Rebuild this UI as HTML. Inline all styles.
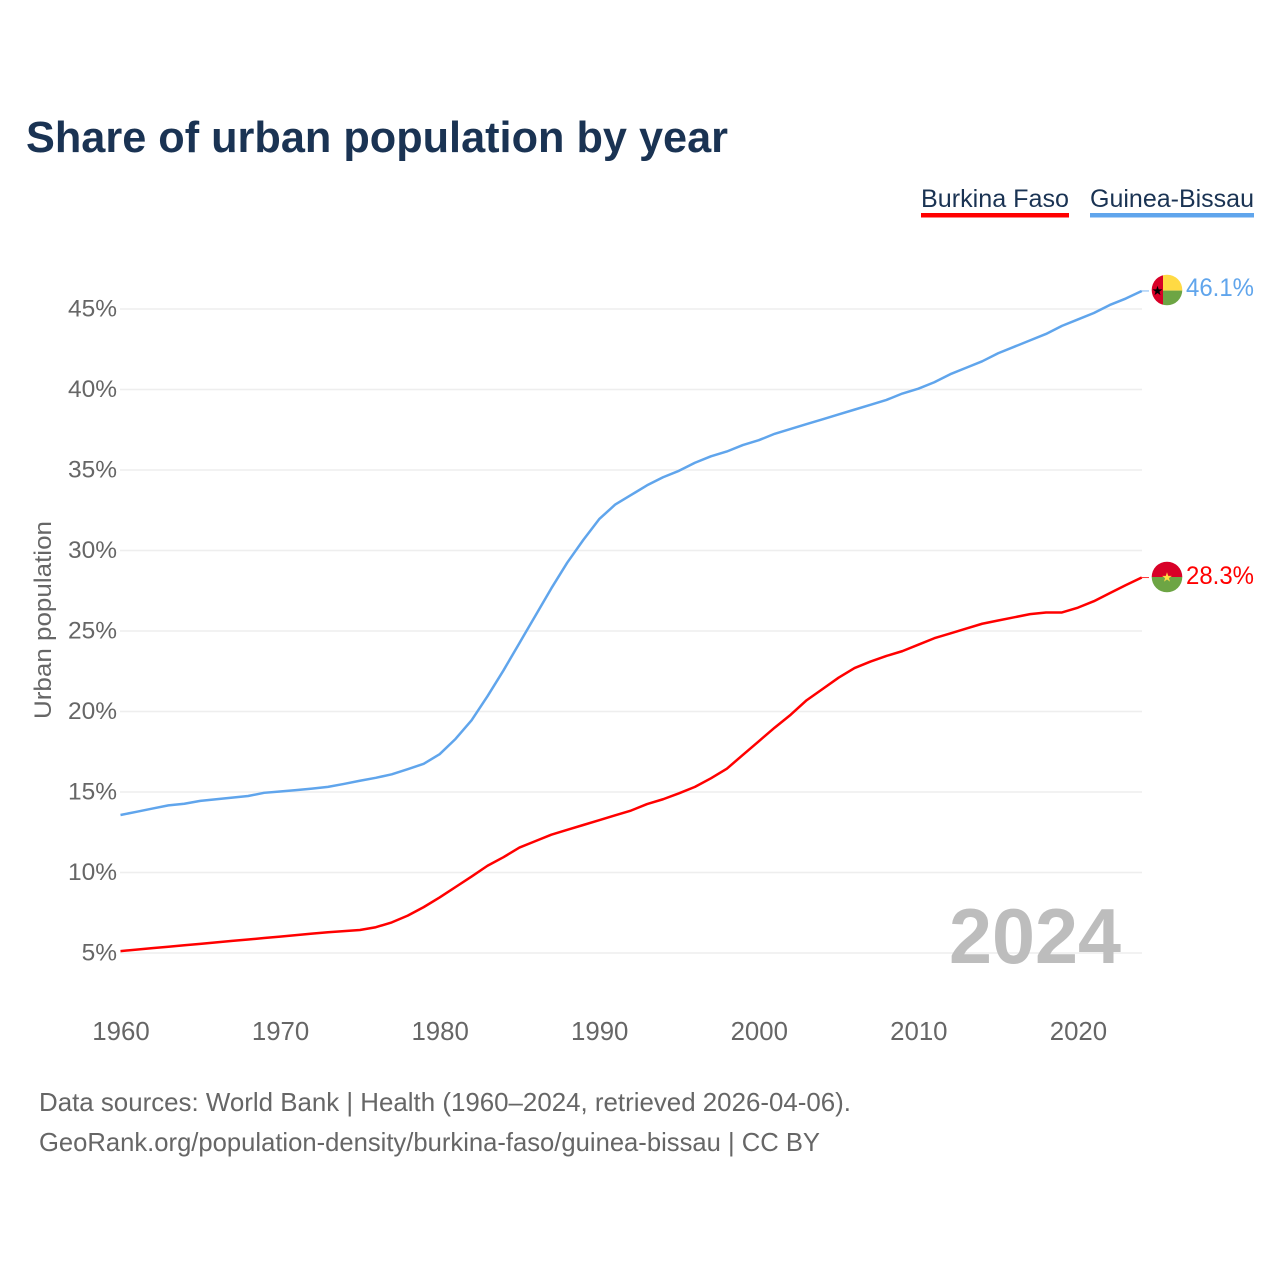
<!DOCTYPE html>
<html lang="en">
<head>
<meta charset="utf-8">
<title>Share of urban population by year</title>
<style>
html,body{margin:0;padding:0;background:#fff;}
svg{display:block;font-family:"Liberation Sans",sans-serif;}
</style>
</head>
<body>
<svg id="chart" width="1280" height="1280" viewBox="0 0 1280 1280" xmlns="http://www.w3.org/2000/svg">
<rect x="0" y="0" width="1280" height="1280" fill="#fff"/>
<text x="26" y="152" font-size="44" font-weight="700" fill="#1a3353" textLength="702" lengthAdjust="spacingAndGlyphs">Share of urban population by year</text>

<g>
<text x="921" y="207" font-size="25" fill="#1a3353" textLength="148" lengthAdjust="spacingAndGlyphs">Burkina Faso</text>
<rect x="921" y="213" width="148" height="4.5" fill="#ff0000"/>
</g>
<g>
<text x="1090" y="207" font-size="25" fill="#1a3353" textLength="164" lengthAdjust="spacingAndGlyphs">Guinea-Bissau</text>
<rect x="1090" y="213" width="164" height="4.5" fill="#60a5ec"/>
</g>

<g id="grid"></g>
<g id="yticks"></g>
<g id="xticks"></g>
<text transform="translate(51,620) rotate(-90)" text-anchor="middle" font-size="24" fill="#666" textLength="198" lengthAdjust="spacingAndGlyphs">Urban population</text>

<text x="1121" y="963" text-anchor="end" font-size="78" font-weight="700" fill="#bdbdbd" textLength="172" lengthAdjust="spacingAndGlyphs">2024</text>

<g id="series"></g>

<defs>
<clipPath id="flag-gw-clip"><circle cx="1167" cy="290" r="15.3"/></clipPath>
<clipPath id="flag-bf-clip"><circle cx="1167" cy="577" r="15.3"/></clipPath>
</defs>
<g clip-path="url(#flag-gw-clip)">
<rect x="1151" y="274" width="12" height="32" fill="#d80027"/>
<rect x="1163" y="274" width="20" height="16.6" fill="#ffda44"/>
<rect x="1163" y="290.6" width="20" height="16" fill="#6da544"/>
<polygon points="1157.5,285.8 1158.7,289.4 1162.4,289.4 1159.4,291.6 1160.5,295.1 1157.5,293 1154.5,295.1 1155.6,291.6 1152.6,289.4 1156.3,289.4" fill="#000"/>
</g>
<g clip-path="url(#flag-bf-clip)">
<rect x="1151" y="561" width="32" height="16" fill="#d80027"/>
<rect x="1151" y="577" width="32" height="16" fill="#6da544"/>
<polygon points="1167,572.3 1168.2,575.9 1171.9,575.9 1168.9,578.1 1170,581.6 1167,579.5 1164,581.6 1165.1,578.1 1162.1,575.9 1165.8,575.9" fill="#ffda44"/>
</g>

<text x="1186" y="296" font-size="25" fill="#60a5ec" textLength="68" lengthAdjust="spacingAndGlyphs">46.1%</text>
<text x="1186" y="584" font-size="25" fill="#ff0000" textLength="68" lengthAdjust="spacingAndGlyphs">28.3%</text>

<text x="39" y="1111" font-size="26" fill="#666" textLength="812" lengthAdjust="spacingAndGlyphs">Data sources: World Bank | Health (1960–2024, retrieved 2026-04-06).</text>
<text x="39" y="1151" font-size="26" fill="#666" textLength="781" lengthAdjust="spacingAndGlyphs">GeoRank.org/population-density/burkina-faso/guinea-bissau | CC BY</text>
</svg>
<script>
const firstYear = 1960;
const yTickValues = [5, 10, 15, 20, 25, 30, 35, 40, 45];
const xTickYears = [1960, 1970, 1980, 1990, 2000, 2010, 2020];
const burkinaFaso = [5.12,5.21,5.30,5.39,5.48,5.57,5.66,5.75,5.84,5.93,6.02,6.11,6.20,6.29,6.36,6.43,6.60,6.90,7.32,7.85,8.45,9.10,9.75,10.42,10.95,11.55,11.95,12.35,12.65,12.95,13.25,13.55,13.85,14.25,14.55,14.92,15.32,15.85,16.45,17.30,18.15,19.00,19.80,20.70,21.40,22.10,22.70,23.10,23.45,23.75,24.15,24.55,24.85,25.15,25.45,25.65,25.85,26.05,26.15,26.15,26.45,26.85,27.35,27.85,28.32];
const guineaBissau = [13.57,13.77,13.97,14.17,14.27,14.45,14.55,14.65,14.75,14.95,15.03,15.12,15.21,15.32,15.50,15.70,15.88,16.10,16.42,16.75,17.35,18.30,19.45,20.95,22.55,24.25,25.95,27.65,29.25,30.65,31.95,32.85,33.45,34.05,34.55,34.95,35.45,35.85,36.15,36.55,36.85,37.25,37.55,37.85,38.15,38.45,38.75,39.05,39.35,39.75,40.05,40.45,40.95,41.35,41.75,42.25,42.65,43.05,43.45,43.95,44.35,44.75,45.25,45.65,46.12];

const NS = 'http://www.w3.org/2000/svg';
function xScale(year) { return 120.5 + (year - 1960) * 15.957; }
function yScale(v) { return 953 - (v - 5) * 16.1; }
function make(tag, attrs, parent) {
  const el = document.createElementNS(NS, tag);
  for (const k in attrs) el.setAttribute(k, attrs[k]);
  parent.appendChild(el);
  return el;
}

const gridG = document.getElementById('grid');
const yG = document.getElementById('yticks');
yTickValues.forEach(function (v) {
  const line = make('line', {x1: 120, x2: 1142, y1: yScale(v), y2: yScale(v), stroke: '#eeeeee', 'stroke-width': 1.5}, gridG);
  
  
  const label = make('text', {x: 117, y: yScale(v) + 7.5, 'text-anchor': 'end', 'font-size': 24.5, fill: '#666'}, yG);
  
  
  label.textContent = v + '%';
});

const xG = document.getElementById('xticks');
xTickYears.forEach(function (yr) {
  const label = make('text', {x: xScale(yr) + 0.5, y: 1040, 'text-anchor': 'middle', 'font-size': 25.8, fill: '#666'}, xG);
  
  
  label.textContent = yr;
});

const seriesG = document.getElementById('series');
function drawSeries(values, color, name) {
  const pts = values.map(function (v, i) { return xScale(firstYear + i).toFixed(2) + ',' + yScale(v).toFixed(2); });
  const line = make('polyline', {points: pts.join(' '), fill: 'none', stroke: color, 'stroke-width': 2.5, 'stroke-linejoin': 'round'}, seriesG);
  
  
  const lastX = xScale(firstYear + values.length - 1);
  const lastY = yScale(values[values.length - 1]);
  const leader = make('line', {x1: lastX, x2: 1149, y1: lastY, y2: lastY, stroke: color, 'stroke-width': 1, opacity: 0.8}, seriesG);
  
  
}
drawSeries(guineaBissau, '#60a5ec', 'line-guinea-bissau');
drawSeries(burkinaFaso, '#ff0000', 'line-burkina-faso');
</script>
</body>
</html>
